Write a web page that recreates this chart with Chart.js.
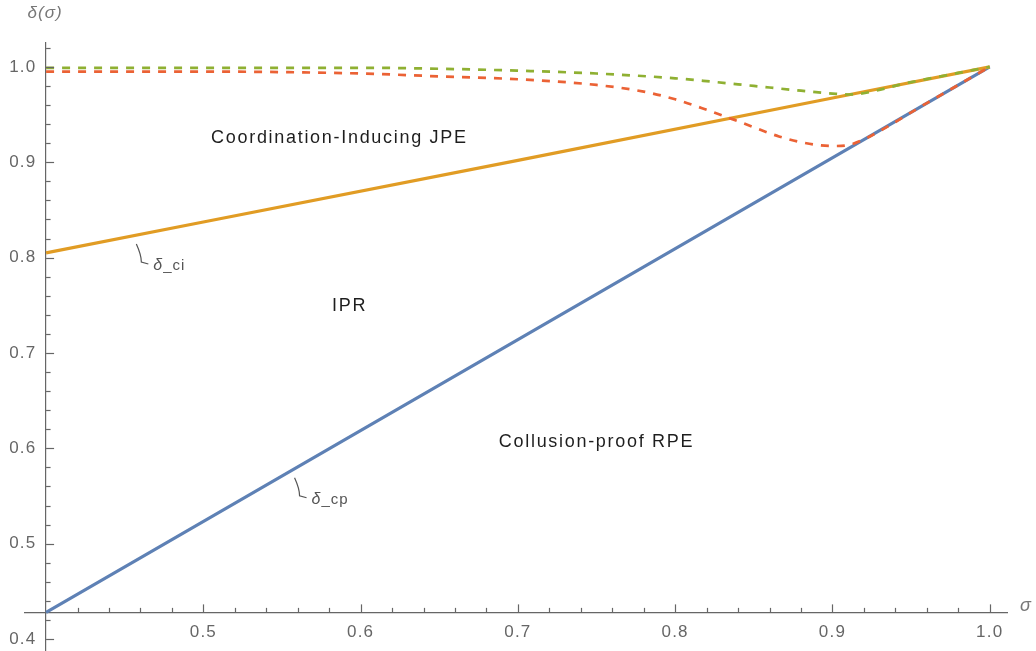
<!DOCTYPE html>
<html><head><meta charset="utf-8">
<script src="https://cdn.jsdelivr.net/npm/chart.js@4"></script>
<style>html,body{margin:0;padding:0;background:#fff}#wrap{width:1036px;height:651px;position:relative}</style>
</head><body><div id="wrap"><canvas id="c"></canvas></div>
<script>
// ---- data ----
const sigmaCp = [0.40, 0.70, 1.00];
const deltaCp = [0.428, 0.714, 1.000];
const sigmaCi = [0.40, 0.70, 1.00];
const deltaCi = [0.805, 0.902, 1.000];
const sigmaRed = [0.40,0.50,0.60,0.65,0.70,0.75,0.78,0.80,0.82,0.84,0.866,0.88,0.90,0.91,0.92,0.96,1.00];
const deltaRed = [0.995,0.995,0.993,0.990,0.987,0.981,0.974,0.966,0.955,0.943,0.927,0.921,0.917,0.918,0.924,0.962,1.000];
const sigmaGreen = [0.40,0.60,0.65,0.70,0.75,0.80,0.82,0.85,0.88,0.90,0.91,0.95,1.00];
const deltaGreen = [0.999,0.999,0.998,0.996,0.993,0.988,0.985,0.980,0.975,0.972,0.971,0.984,1.000];

const xTickLabels = [0.5, 0.6, 0.7, 0.8, 0.9, 1.0];
const yTickLabels = [0.4, 0.5, 0.6, 0.7, 0.8, 0.9, 1.0];

const regionText  = ['Coordination-Inducing JPE', 'IPR', 'Collusion-proof RPE'];
const regionSigma = [0.5865, 0.593, 0.750];
const regionDelta = [0.9255, 0.749, 0.6065];

const calloutText  = ['_ci', '_cp'];
const calloutSigma = [0.4574, 0.558];
const calloutDelta = [0.8237, 0.5786];

const xAxisAt = 0.428; // value of δ where σ-axis crosses
const yAxisAt = 0.4;   // value of σ where δ-axis crosses

const toPts = (xs, ys) => xs.map((x, i) => ({x, y: ys[i]}));

const zeroFit = (s, horiz) => {
  if (horiz) s.height = 0; else s.width = 0;
  s.paddingTop = 0; s.paddingBottom = 0; s.paddingLeft = 0; s.paddingRight = 0;
};

const axisPlugin = {
  id: 'mmaAxes',
  beforeDraw(chart) { chart.ctx.letterSpacing = '1.2px'; },
  afterDraw(chart) {
    const ctx = chart.ctx, xs = chart.scales.x, ys = chart.scales.y;
    const ca = chart.chartArea;
    const axY = ys.getPixelForValue(xAxisAt);
    const axX = xs.getPixelForValue(yAxisAt);
    ctx.save();
    ctx.strokeStyle = '#666';
    ctx.lineWidth = 1.2;
    // minor/major ticks (inward)
    for (let v = 0.40; v <= 1.0105; v += 0.02) {
      const major = Math.abs(v * 10 - Math.round(v * 10)) < 1e-6;
      if (Math.abs(v - yAxisAt) < 1e-6) continue;
      const px = Math.round(xs.getPixelForValue(v)) + 0.5;
      ctx.beginPath(); ctx.moveTo(px, axY); ctx.lineTo(px, axY - (major ? 8 : 4.5)); ctx.stroke();
    }
    for (let v = 0.40; v <= 1.0205; v += 0.02) {
      const major = Math.abs(v * 10 - Math.round(v * 10)) < 1e-6;
      const py = Math.round(ys.getPixelForValue(v)) + 0.5;
      ctx.beginPath(); ctx.moveTo(axX, py); ctx.lineTo(axX + (major ? 8 : 4.5), py); ctx.stroke();
    }
    // axis labels
    ctx.fillStyle = '#777';
    ctx.letterSpacing = '1px';
    ctx.font = 'italic 17px "Liberation Sans", Arial, sans-serif';
    ctx.textAlign = 'center'; ctx.textBaseline = 'middle';
    ctx.fillText('δ(σ)', axX - 1, ca.top - 30);
    ctx.font = 'italic 18px "Liberation Sans", Arial, sans-serif';
    ctx.fillText('σ', ca.right + 19, axY - 6);
    // region labels
    ctx.fillStyle = '#1e1e1e';
    ctx.letterSpacing = '1.7px';
    ctx.font = '18px "Liberation Sans", Arial, sans-serif';
    regionText.forEach((t, i) => {
      ctx.fillText(t, xs.getPixelForValue(regionSigma[i]), ys.getPixelForValue(regionDelta[i]));
    });
    // callouts
    ctx.strokeStyle = '#555'; ctx.lineWidth = 1.2; ctx.fillStyle = '#555';
    ctx.letterSpacing = '1px';
    calloutText.forEach((t, i) => {
      const px = xs.getPixelForValue(calloutSigma[i]);
      const py = ys.getPixelForValue(calloutDelta[i]);
      ctx.beginPath();
      ctx.moveTo(px, py + 9);
      ctx.quadraticCurveTo(px + 5, py + 20, px + 5, py + 27);
      ctx.lineTo(px + 12, py + 29);
      ctx.stroke();
      const tx = px + 17, ty = py + 31;
      ctx.textAlign = 'left';
      ctx.font = 'italic 16px "Liberation Sans", Arial, sans-serif';
      ctx.fillText('δ', tx, ty);
      const w = ctx.measureText('δ').width;
      ctx.font = '15px "Liberation Sans", Arial, sans-serif';
      ctx.fillText(t, tx + w, ty);
    });
    ctx.restore();
  }
};

const tickFont = {family: '"Liberation Sans", Arial, sans-serif', size: 17};

new Chart(document.getElementById('c'), {
  type: 'line',
  data: {
    datasets: [
      {label: 'green', data: toPts(sigmaGreen, deltaGreen), borderColor: '#8FB032', borderWidth: 2.7, borderDash: [8, 8], order: 0},
      {label: 'red', data: toPts(sigmaRed, deltaRed), borderColor: '#EB6235', borderWidth: 2.7, borderDash: [8, 8], order: 1},
      {label: 'δ_ci', data: toPts(sigmaCi, deltaCi), borderColor: '#E19C24', borderWidth: 3.2, order: 2},
      {label: 'δ_cp', data: toPts(sigmaCp, deltaCp), borderColor: '#5E81B5', borderWidth: 3.2, order: 3}
    ]
  },
  options: {
    responsive: true,
    maintainAspectRatio: false,
    animation: false,
    events: [],
    elements: {
      point: {radius: 0},
      line: {cubicInterpolationMode: 'monotone', fill: false, borderCapStyle: 'butt'}
    },
    layout: {padding: {left: 25, right: 29, top: 43, bottom: 0}},
    plugins: {legend: {display: false}, tooltip: {enabled: false}, title: {display: false}},
    scales: {
      x: {
        type: 'linear',
        min: 0.3866, max: 1.011,
        position: {y: xAxisAt},
        afterFit: s => zeroFit(s, true),
        afterBuildTicks: s => { s.ticks = xTickLabels.map(v => ({value: v})); },
        grid: {display: true, drawOnChartArea: false, drawTicks: false},
        border: {display: true, color: '#666', width: 1.2},
        ticks: {color: '#666', font: tickFont, padding: 10, autoSkip: false, maxRotation: 0,
                callback: v => Number(v).toFixed(1)}
      },
      y: {
        type: 'linear',
        min: 0.3875, max: 1.025,
        position: {x: yAxisAt},
        afterFit: s => zeroFit(s, false),
        afterBuildTicks: s => { s.ticks = yTickLabels.map(v => ({value: v})); },
        grid: {display: true, drawOnChartArea: false, drawTicks: false},
        border: {display: true, color: '#666', width: 1.2},
        ticks: {color: '#666', font: tickFont, padding: 10, autoSkip: false,
                callback: v => Number(v).toFixed(1) + '\u2002'}
      }
    }
  },
  plugins: [axisPlugin]
});
</script>
</body></html>
